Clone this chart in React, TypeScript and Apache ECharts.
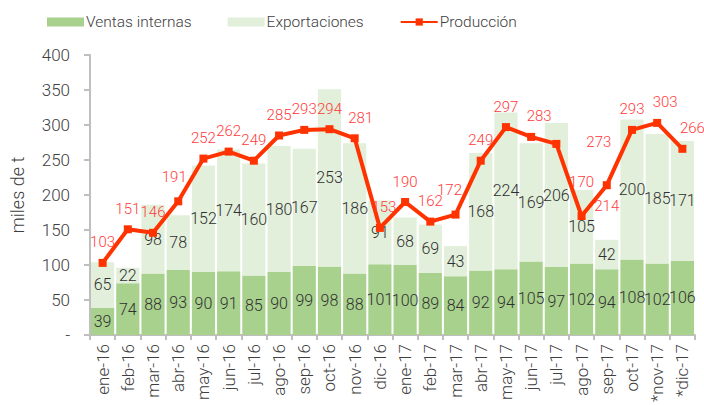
import React, { useEffect, useRef } from "react";
import * as echarts from "echarts";

const months = ["ene-16","feb-16","mar-16","abr-16","may-16","jun-16","jul-16","ago-16","sep-16","oct-16","nov-16","dic-16","ene-17","feb-17","mar-17","abr-17","may-17","jun-17","jul-17","ago-17","sep-17","oct-17","*nov-17","*dic-17"];
const ventasInternas = [39,74,88,93,90,91,85,90,99,98,88,101,100,89,84,92,94,105,97,102,94,108,102,106];
const exportaciones = [65,22,98,78,152,174,160,180,167,253,186,91,68,69,43,168,224,169,206,105,42,200,185,171];
const produccion = [103,151,146,191,252,262,249,285,293,294,281,153,190,162,172,249,297,283,273,170,214,293,303,266];
const labelPos: Record<number, any> = {
  3: { position: "top", offset: [-4, -4] },
  11: { position: "top", offset: [4, 0] },
  14: { position: "top", offset: [-6, -4] },
  18: { position: "right", offset: [17, -2] },
  19: { position: "top", offset: [0, -14] },
  20: { position: "bottom" },
  10: { position: "top", offset: [6, 0] },
  22: { position: "top", offset: [8, 0] },
  23: { position: "top", offset: [10, 0] },
  17: { position: "top", offset: [8, 0] },
};

export default function App() {
  const ref = useRef<HTMLDivElement>(null);
  useEffect(() => {
    const chart = echarts.init(ref.current!, null, { renderer: "svg" });
    const font = "Roboto";
    const fw = 300;
    chart.setOption({
      animation: false,
      textStyle: { fontFamily: font, fontWeight: fw },
      legend: {
        top: 9,
        left: 42,
        itemGap: 36,
        itemWidth: 37,
        itemHeight: 9,
        textStyle: { fontSize: 15.5, color: "#404040", fontFamily: font, fontWeight: fw, padding: [0, 0, 0, -3] },
        data: [
          { name: "Ventas internas", icon: "rect" },
          { name: "Exportaciones", icon: "rect" },
          { name: "Producción" },
        ],
      },
      grid: { left: 88, right: 9, top: 55, bottom: 70 },
      xAxis: {
        type: "category",
        data: months,
        axisLine: { lineStyle: { color: "#bfbfbf", width: 2 } },
        axisTick: { show: true, length: 5, lineStyle: { color: "#bfbfbf", width: 2 } },
        axisLabel: { rotate: 90, color: "#404040", fontSize: 17, fontWeight: fw, margin: 9, interval: 0 },
      },
      yAxis: {
        type: "value",
        min: 0,
        max: 400,
        interval: 50,
        name: "miles de t",
        nameLocation: "middle",
        nameGap: 64,
        nameTextStyle: { fontSize: 18, color: "#404040", fontWeight: fw },
        axisLine: { show: true, lineStyle: { color: "#bfbfbf", width: 2 } },
        axisTick: { show: true, length: 6, lineStyle: { color: "#bfbfbf", width: 2 } },
        splitLine: { show: false },
        axisLabel: {
          color: "#404040",
          fontSize: 17,
          fontWeight: fw,
          margin: 20,
          formatter: (v: number) => (v === 0 ? "-" : String(v)),
        },
      },
      series: [
        {
          name: "Ventas internas",
          type: "bar",
          stack: "s",
          data: ventasInternas,
          barCategoryGap: "8%",
          itemStyle: { color: "#A9D18E" },
          label: { show: true, position: "inside", color: "#303030", fontSize: 16, fontWeight: fw },
        },
        {
          name: "Exportaciones",
          type: "bar",
          stack: "s",
          data: exportaciones,
          itemStyle: { color: "#E2EFDA" },
          label: { show: true, position: "inside", color: "#303030", fontSize: 16, fontWeight: fw },
        },
        {
          name: "Producción",
          type: "line",
          data: produccion.map((v, i) => ({ value: v, label: labelPos[i] })),
          symbol: "rect",
          symbolSize: 8,
          lineStyle: { color: "#FF3300", width: 4 },
          itemStyle: { color: "#FF3300" },
          label: { show: true, position: "top", color: "#FF3B3B", fontSize: 15, fontWeight: fw, distance: 9 },
          z: 5,
        },
      ],
    });
    return () => chart.dispose();
  }, []);
  return <div ref={ref} style={{ width: 704, height: 405, position: "absolute", left: 0, top: 0 }} />;
}
